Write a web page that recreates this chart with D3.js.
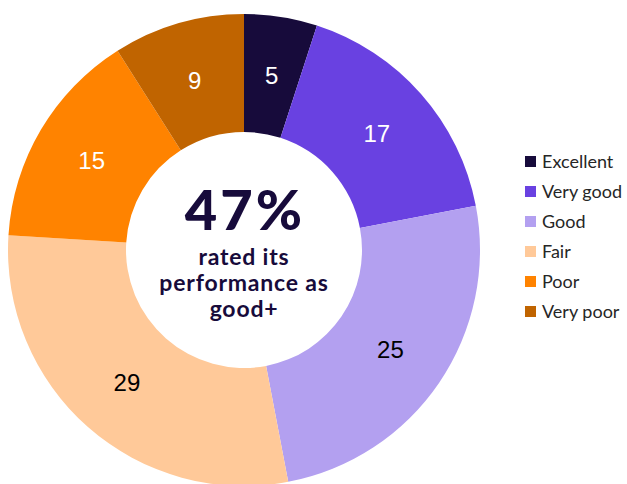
<!DOCTYPE html>
<html>
<head>
<meta charset="utf-8">
<script src="https://cdn.jsdelivr.net/npm/d3@7"></script>
<style>
  body { margin: 0; background: #fff; }
</style>
</head>
<body>
<div id="chart"></div>
<script>
var categories = ["Excellent", "Very good", "Good", "Fair", "Poor", "Very poor"];
var values = [5, 17, 25, 29, 15, 9];
var colors = ["#170b3b", "#6941e1", "#b3a0f0", "#ffc999", "#ff8300", "#c06400"];
var labelColors = ["#fff", "#fff", "#000", "#000", "#fff", "#fff"];
var centerBig = "47%";
var centerLines = ["rated its", "performance as", "good+"];

(function() {
  var width = 627,
      height = 484,
      cx = 244,
      cy = 250,
      outerR = 236,
      innerR = 118;

  var svg = d3.select("#chart")
    .append("svg")
    .attr("width", width)
    .attr("height", height);

  var data = categories.map(function(c, i) {
    return { name: c, value: values[i], color: colors[i], label: labelColors[i] };
  });

  var pie = d3.pie()
    .sort(null)
    .value(function(d) { return d.value; });

  var arc = d3.arc()
    .innerRadius(innerR)
    .outerRadius(outerR);

  var g = svg.append("g")
    .attr("transform", "translate(" + cx + "," + cy + ")");

  var slices = g.selectAll(".slice")
    .data(pie(data))
    .enter().append("g")
    .attr("class", "slice");

  slices.append("path")
    .attr("d", arc)
    .attr("fill", function(d) { return d.data.color; });

  // value labels sit on the centroid of each ring piece
  slices.append("text")
    .attr("transform", function(d) { return "translate(" + arc.centroid(d) + ")"; })
    .attr("text-anchor", "middle")
    .attr("dy", "0.36em")
    .attr("font-family", "'Liberation Sans', Arial, sans-serif")
    .attr("font-size", 24)
    .attr("fill", function(d) { return d.data.label; })
    .text(function(d) { return d.data.value; });

  // centre text
  g.append("text")
    .attr("text-anchor", "middle")
    .attr("x", 1)
    .attr("y", -20)
    .attr("font-family", "Lato, sans-serif")
    .attr("font-weight", 900)
    .attr("font-size", 56)
    .attr("letter-spacing", 3)
    .attr("fill", "#170b3b")
    .text(centerBig);

  g.selectAll(".sub")
    .data(centerLines)
    .enter().append("text")
    .attr("class", "sub")
    .attr("text-anchor", "middle")
    .attr("y", function(d, i) { return 15 + i * 26; })
    .attr("font-family", "Lato, sans-serif")
    .attr("font-weight", 700)
    .attr("font-size", 23)
    .attr("letter-spacing", 0.8)
    .attr("fill", "#170b3b")
    .text(function(d) { return d; });

  // legend
  var legend = svg.append("g")
    .attr("transform", "translate(525,156)");

  var rows = legend.selectAll(".row")
    .data(data)
    .enter().append("g")
    .attr("class", "row")
    .attr("transform", function(d, i) { return "translate(0," + i * 30 + ")"; });

  rows.append("rect")
    .attr("width", 11)
    .attr("height", 11)
    .attr("fill", function(d) { return d.color; });

  rows.append("text")
    .attr("x", 17)
    .attr("y", 6)
    .attr("dy", "0.36em")
    .attr("font-family", "Lato, 'Open Sans', sans-serif")
    .attr("font-size", 18)
    .attr("fill", "#262626")
    .text(function(d) { return d.name; });
})();
</script>
</body>
</html>
